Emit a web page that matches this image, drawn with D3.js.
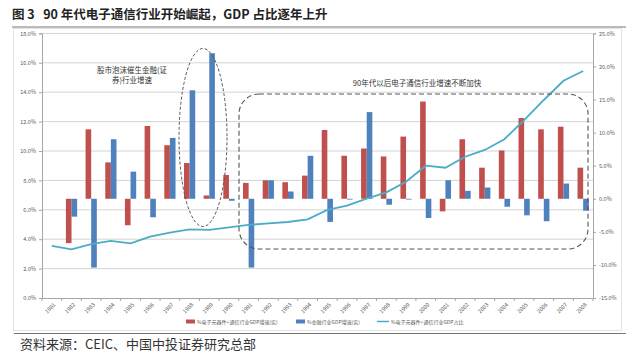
<!DOCTYPE html>
<html>
<head>
<meta charset="utf-8">
<script src="https://cdn.jsdelivr.net/npm/d3@7"></script>
<style>
  body { margin: 0; background: #fff; }
  svg text { font-family: "Noto Sans CJK SC", "Noto Sans", sans-serif; }
</style>
</head>
<body>
<div id="chart"></div>
<script>
// data
const years = d3.range(1981, 2009).map(String);
// % electronics + telecom GDP growth (real), right axis
const elecGrowth = [null, -6.7, 10.5, 5.5, -4.0, 11.0, 8.1, 5.4, 0.5, 3.6,
  2.4, 2.8, 2.5, 3.5, 10.4, 6.5, 7.6, 6.4, 9.4, 14.7,
  -1.9, 9.0, 4.7, 7.3, 12.2, 10.5, 10.9, 4.7];
// % finance GDP growth (real), right axis
const finGrowth = [null, -2.7, -10.4, 9.0, 4.1, -2.8, 9.2, 16.4, 22.0, -0.3,
  -10.4, 2.8, 1.1, 6.5, -3.5, -0.1, 13.1, -0.9, -0.1, -2.9,
  2.8, 1.2, 1.7, -1.2, -2.5, -3.4, 2.3, -1.8];
// % electronics + telecom share of GDP, left axis
const elecShare = [3.54, 3.31, 3.67, 3.88, 3.72, 4.17, 4.44, 4.67, 4.63, 4.81,
  4.97, 5.08, 5.17, 5.35, 5.99, 6.28, 6.76, 7.19, 7.91, 9.0,
  8.86, 9.61, 10.07, 10.8, 12.1, 13.47, 14.78, 15.44];
const leftTicks = d3.range(0, 18.1, 2);
const rightTicks = d3.range(-15, 25.1, 5);
const legendNames = ["%电子元器件+通信行业GDP增速(实)", "%金融行业GDP增速(实)", "%电子元器件+通信行业GDP占比"];
const colors = ["#c0504d", "#4f81bd", "#4bacc6"];

const width = 640, height = 353;
const plot = { left: 42, right: 593, top: 33.4, bottom: 298 };

const svg = d3.select("#chart").append("svg")
  .attr("width", width).attr("height", height);

// title + rule
svg.append("text").attr("x", 12).attr("y", 19)
  .attr("font-size", 12.5).attr("font-weight", "bold").attr("fill", "#222")
  .style("white-space", "pre")
  .text("图 3   90 年代电子通信行业开始崛起，GDP 占比逐年上升");
svg.append("line").attr("x1", 12).attr("x2", 626).attr("y1", 27).attr("y2", 27)
  .attr("stroke", "#777").attr("stroke-width", 1.2);

// chart frame
svg.append("rect").attr("x", 13.5).attr("y", 28.5).attr("width", 608).attr("height", 302)
  .attr("fill", "none").attr("stroke", "#e3e3e3");

// scales
const x = d3.scaleBand().domain(years).range([plot.left, plot.right]);
const xSub = d3.scaleBand().domain(["e", "f"]).range([0, x.bandwidth()]).paddingOuter(0.75);
const yL = d3.scaleLinear().domain([0, 18]).range([plot.bottom, plot.top]);
const yR = d3.scaleLinear().domain([-15, 25]).range([plot.bottom, plot.top]);

// grid
svg.append("g").selectAll("line").data(leftTicks.slice(1)).join("line")
  .attr("x1", plot.left).attr("x2", plot.right)
  .attr("y1", d => yL(d)).attr("y2", d => yL(d))
  .attr("stroke", "#d4d4d4").attr("stroke-width", 1);

// axes
const axisL = svg.append("g").attr("transform", `translate(${plot.left},0)`)
  .call(d3.axisLeft(yL).tickValues(leftTicks).tickFormat(d => d.toFixed(1) + "%").tickSize(3));
const axisR = svg.append("g").attr("transform", `translate(${plot.right},0)`)
  .call(d3.axisRight(yR).tickValues(rightTicks).tickFormat(d => d.toFixed(1) + "%").tickSize(3));
const axisX = svg.append("g").attr("transform", `translate(0,${plot.bottom})`)
  .call(d3.axisBottom(x).tickSize(0));
[axisL, axisR, axisX].forEach(g => {
  g.select(".domain").attr("stroke", "#a6a6a6");
  g.selectAll(".tick line").attr("stroke", "#a6a6a6");
  g.selectAll("text").attr("font-size", 5.5).attr("fill", "#595959")
    .attr("font-family", "Liberation Sans, sans-serif");
});
axisX.selectAll(".tick text")
  .attr("text-anchor", "end").attr("dy", 0)
  .attr("transform", "translate(2,5) rotate(-45)");
// category separators on the x axis
axisX.append("g").selectAll("line").data(years.concat(["end"])).join("line")
  .attr("x1", (d, i) => plot.left + i * x.step()).attr("x2", (d, i) => plot.left + i * x.step())
  .attr("y1", 0).attr("y2", 3).attr("stroke", "#a6a6a6");

// bars
const barData = [];
years.forEach((yr, i) => {
  if (elecGrowth[i] !== null) barData.push({ yr, k: "e", v: elecGrowth[i] });
  if (finGrowth[i] !== null) barData.push({ yr, k: "f", v: finGrowth[i] });
});
svg.append("g").selectAll("rect").data(barData).join("rect")
  .attr("x", d => x(d.yr) + xSub(d.k))
  .attr("width", xSub.bandwidth())
  .attr("y", d => yR(Math.max(0, d.v)))
  .attr("height", d => Math.max(0.8, Math.abs(yR(d.v) - yR(0))))
  .attr("fill", d => d.k === "e" ? colors[0] : colors[1]);

// share line
const line = d3.line()
  .x((d, i) => x(years[i]) + x.bandwidth() / 2)
  .y(d => yL(d));
svg.append("path").datum(elecShare)
  .attr("d", line).attr("fill", "none")
  .attr("stroke", colors[2]).attr("stroke-width", 1.8);

// annotations
svg.append("ellipse").attr("cx", 203).attr("cy", 137.5).attr("rx", 24).attr("ry", 89)
  .attr("fill", "none").attr("stroke", "#555").attr("stroke-width", 1)
  .attr("stroke-dasharray", "3,2");
svg.append("text").attr("x", 132).attr("y", 73).attr("text-anchor", "middle")
  .attr("font-size", 7.5).attr("fill", "#333").text("股市泡沫催生金融(证");
svg.append("text").attr("x", 132).attr("y", 83).attr("text-anchor", "middle")
  .attr("font-size", 7.5).attr("fill", "#333").text("券)行业增速");
svg.append("rect").attr("x", 239).attr("y", 94).attr("width", 349).attr("height", 155)
  .attr("rx", 20).attr("ry", 20)
  .attr("fill", "none").attr("stroke", "#555").attr("stroke-width", 1.1)
  .attr("stroke-dasharray", "5,3");
svg.append("text").attr("x", 417).attr("y", 86).attr("text-anchor", "middle")
  .attr("font-size", 7.5).attr("fill", "#333").text("90年代以后电子通信行业增速不断加快");

// legend
const legX = [186, 296, 377];
const leg = svg.append("g");
legendNames.forEach((name, i) => {
  if (i < 2) {
    leg.append("rect").attr("x", legX[i]).attr("y", 319.5).attr("width", 9).attr("height", 4)
      .attr("fill", colors[i]);
  } else {
    leg.append("line").attr("x1", legX[i]).attr("x2", legX[i] + 12)
      .attr("y1", 321.5).attr("y2", 321.5).attr("stroke", colors[i]).attr("stroke-width", 1.5);
  }
  leg.append("text").attr("x", legX[i] + (i < 2 ? 11 : 14)).attr("y", 323.5)
    .attr("font-size", 5).attr("fill", "#595959").text(name);
});

// bottom rule + source
svg.append("line").attr("x1", 14).attr("x2", 626).attr("y1", 333.5).attr("y2", 333.5)
  .attr("stroke", "#777").attr("stroke-width", 1.2);
svg.append("text").attr("x", 20).attr("y", 349)
  .attr("font-size", 13).attr("fill", "#333")
  .text("资料来源：CEIC、中国中投证券研究总部");
</script>
</body>
</html>
